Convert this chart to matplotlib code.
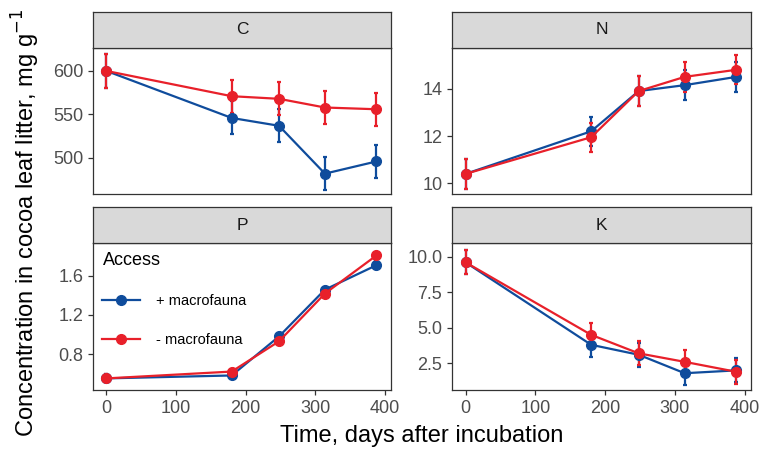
import matplotlib
matplotlib.use("Agg")
import matplotlib.pyplot as plt
from matplotlib.lines import Line2D

plt.rcParams['font.family'] = ['Liberation Sans', 'DejaVu Sans']

# sampling days after incubation
days = [0, 180, 248, 314, 388]

# C, mg g-1
c_plus = [600, 546, 537, 482, 496]
c_minus = [600, 571, 568, 558, 556]
c_err_plus = [19, 19, 19, 19, 19]
c_err_minus = [19, 19, 19, 19, 19]

# N
n_plus = [10.4, 12.2, 13.9, 14.15, 14.5]
n_minus = [10.4, 11.95, 13.9, 14.5, 14.8]
n_err_plus = [0.62, 0.62, 0.62, 0.62, 0.62]
n_err_minus = [0.62, 0.62, 0.62, 0.62, 0.62]

# P
p_plus = [0.55, 0.58, 0.98, 1.46, 1.71]
p_minus = [0.55, 0.62, 0.93, 1.42, 1.81]
p_err_plus = [0.04, 0.03, 0.04, 0.03, 0.04]
p_err_minus = [0.04, 0.03, 0.04, 0.04, 0.04]

# K
k_plus = [9.6, 3.8, 3.1, 1.8, 2.0]
k_minus = [9.6, 4.5, 3.2, 2.6, 1.9]
k_err_plus = [0.85, 0.85, 0.85, 0.85, 0.85]
k_err_minus = [0.85, 0.85, 0.85, 0.85, 0.85]

panels = ['C', 'N', 'P', 'K']
labels = ['+ macrofauna', '- macrofauna']
BLUE = '#0f4c9c'
RED = '#e8202a'

W, H = 761, 449
fig = plt.figure(figsize=(W / 100, H / 100), dpi=100)


def px_axes(x0, y0, x1, y1):
    # pixel box (top-left origin) -> figure axes
    return fig.add_axes([x0 / W, 1 - y1 / H, (x1 - x0) / W, (y1 - y0) / H])


boxes = {
    'C': (93, 48, 391, 194),
    'N': (452, 48, 751, 194),
    'P': (93, 243, 391, 390),
    'K': (452, 243, 751, 390),
}
data = {
    'C': (c_plus, c_err_plus, c_minus, c_err_minus, (458.6, 626.4), [500, 550, 600], '{:.0f}'),
    'N': (n_plus, n_err_plus, n_minus, n_err_minus, (9.55, 15.72), [10, 12, 14], '{:.0f}'),
    'P': (p_plus, p_err_plus, p_minus, p_err_minus, (0.431, 1.938), [0.8, 1.2, 1.6], '{:.1f}'),
    'K': (k_plus, k_err_plus, k_minus, k_err_minus, (0.62, 10.96), [2.5, 5.0, 7.5, 10.0], '{:.1f}'),
}

for name in panels:
    x0, y0, x1, y1 = boxes[name]
    ax = px_axes(x0, y0, x1, y1)
    yp, ep, ym, em, ylim, yticks, fmt = data[name]
    for y, e, col in [(yp, ep, BLUE), (ym, em, RED)]:
        ax.errorbar(days, y, yerr=e, color=col, lw=1.6, marker='o', ms=7,
                    elinewidth=1.6, capsize=1.5, capthick=1.6)
    ax.set_xlim(-19.4, 409)
    ax.set_ylim(*ylim)
    ax.set_yticks(yticks)
    ax.set_yticklabels([fmt.format(v) for v in yticks])
    ax.set_xticks([0, 100, 200, 300, 400])
    ax.tick_params(colors='#333333', labelcolor='#4d4d4d', labelsize=13,
                   length=3.5, width=0.9)
    if name in ('C', 'N'):
        ax.tick_params(axis='x', length=0, labelbottom=False)
    for s in ax.spines.values():
        s.set_color('#333333')
        s.set_linewidth(0.9)

    # facet strip
    sax = px_axes(x0, y0 - 36, x1, y0)
    sax.set_facecolor('#d9d9d9')
    sax.set_xticks([])
    sax.set_yticks([])
    for s in sax.spines.values():
        s.set_color('#333333')
        s.set_linewidth(0.9)
    sax.text(0.5, 0.5, name, ha='center', va='center', fontsize=12.5, color='#1a1a1a')

    if name == 'P':
        handles = [Line2D([], [], color=BLUE, lw=1.6, marker='o', ms=7),
                   Line2D([], [], color=RED, lw=1.6, marker='o', ms=7)]
        leg = ax.legend(handles, labels, title='Access', loc='upper left', frameon=False,
                        fontsize=10.5, title_fontsize=13, labelspacing=1.7,
                        handlelength=2.6, handletextpad=1.1, borderaxespad=0.25)
        leg._legend_box.align = 'left'

fig.text(0.5 * (93 + 751) / W, 1 - 436 / H, 'Time, days after incubation',
         ha='center', va='center', fontsize=17, color='black')
fig.text(26 / W, 1 - 223 / H, 'Concentration in cocoa leaf litter, mg g$^{-1}$',
         ha='center', va='center', rotation=90, fontsize=17, color='black')

fig.savefig('out.png', dpi=100)
